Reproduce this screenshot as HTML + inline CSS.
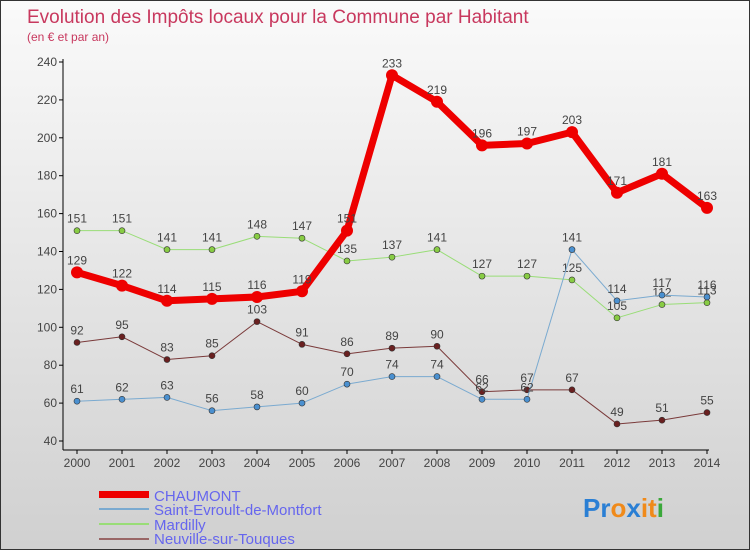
<!DOCTYPE html>
<html><head><meta charset="utf-8"><style>
body{margin:0}
#c{width:750px;height:550px;position:relative;background:linear-gradient(#fafafa,#d0d0d0);font-family:"Liberation Sans",sans-serif;border:1px solid #333;box-sizing:border-box;overflow:hidden}
</style></head><body>
<div id="c">
<svg id="s" width="750" height="550" style="position:absolute;left:0;top:0" font-family="Liberation Sans, sans-serif">
<text x="26" y="22" font-size="19" fill="#c8385e">Evolution des Impôts locaux pour la Commune par Habitant</text>
<text x="26" y="40" font-size="12" fill="#c8385e">(en € et par an)</text>
<g id="ax"></g><g id="series"></g>
<g>
<rect x="98" y="490" width="50" height="7" fill="#ee0000"/>
<text x="153" y="500" font-size="15" fill="#6666ee">CHAUMONT</text>
<line x1="98" y1="508" x2="148" y2="508" stroke="#7aaad0" stroke-width="2"/>
<text x="153" y="514" font-size="15" fill="#6666ee">Saint-Evroult-de-Montfort</text>
<line x1="98" y1="523" x2="148" y2="523" stroke="#99dd77" stroke-width="2"/>
<text x="153" y="529" font-size="15" fill="#6666ee">Mardilly</text>
<line x1="98" y1="538" x2="148" y2="538" stroke="#996666" stroke-width="2"/>
<text x="153" y="543" font-size="15" fill="#6666ee">Neuville-sur-Touques</text>
</g>
<text x="582" y="516" font-size="26" font-weight="bold"><tspan fill="#2a7fd4">Pr</tspan><tspan fill="#f08a1a">o</tspan><tspan fill="#2a7fd4">x</tspan><tspan fill="#f08a1a">it</tspan><tspan fill="#3aa83a">i</tspan></text>
</svg>
</div>
<script>
const years=[2000,2001,2002,2003,2004,2005,2006,2007,2008,2009,2010,2011,2012,2013,2014];
const yTicks=[40,60,80,100,120,140,160,180,200,220,240];
const chaumont=[129,122,114,115,116,119,151,233,219,196,197,203,171,181,163];
const saintEvroult=[61,62,63,56,58,60,70,74,74,62,62,141,114,117,116];
const mardilly=[151,151,141,141,148,147,135,137,141,127,127,125,105,112,113];
const neuville=[92,95,83,85,103,91,86,89,90,66,67,67,49,51,55];
const NS='http://www.w3.org/2000/svg';
const X=i=>76+i*45, Y=v=>440-(v-40)*1.895;
function mk(t,a,p){const e=document.createElementNS(NS,t);for(const k in a)e.setAttribute(k,a[k]);p.appendChild(e);return e;}
const ax=document.getElementById('ax');
let l=mk('line',{x1:62,y1:58,x2:62,y2:449,stroke:'#000'},ax);


l=mk('line',{x1:62,y1:449,x2:708,y2:449,stroke:'#000'},ax);


yTicks.forEach(v=>{mk('line',{x1:58,y1:Y(v),x2:62,y2:Y(v),stroke:'#000'},ax);
const t=mk('text',{x:56,y:Y(v)+4,'text-anchor':'end','font-size':12,fill:'#444'},ax);t.textContent=v;

});
years.forEach((y,i)=>{mk('line',{x1:X(i),y1:449,x2:X(i),y2:453,stroke:'#000'},ax);
const t=mk('text',{x:X(i),y:466,'text-anchor':'middle','font-size':12,fill:'#444'},ax);t.textContent=y;

});
const sg=document.getElementById('series');
function draw(data,name,col,w,r,fill){
const g=mk('g',{},sg);


const p=mk('polyline',{points:data.map((v,i)=>X(i)+','+Y(v)).join(' '),fill:'none',stroke:col,'stroke-width':w,'stroke-linejoin':'round'},g);


data.forEach((v,i)=>{const c=mk('circle',{cx:X(i),cy:Y(v),r:r,fill:fill,stroke:w>3?col:'#333','stroke-width':w>3?0:0.6},g);


const t=mk('text',{x:X(i),y:Y(v)-8,'text-anchor':'middle','font-size':12,fill:'#444'},g);t.textContent=v;

});}
draw(neuville,'neuville','#7a3a3a',1,3,'#6a2020');
draw(mardilly,'mardilly','#99dd77',1,3,'#88cc44');
draw(saintEvroult,'saint-evroult','#7aaad0',1,3,'#4a90d0');
draw(chaumont,'chaumont','#ee0000',7,6,'#ee0000');
</script>
</body></html>
